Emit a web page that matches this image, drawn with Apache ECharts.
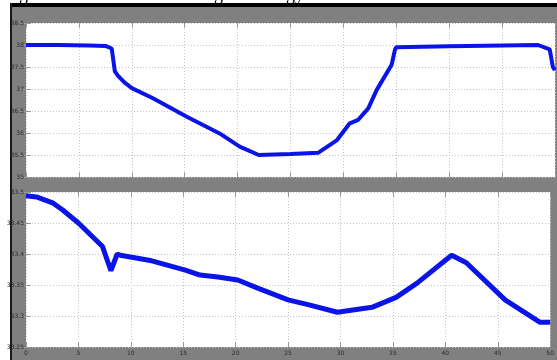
<!DOCTYPE html>
<html>
<head>
<meta charset="utf-8">
<script src="https://cdn.jsdelivr.net/npm/echarts@6/dist/echarts.min.js"></script>
<style>
  html, body { margin: 0; padding: 0; background: #fff; }
  #chart { width: 557px; height: 360px; }
</style>
</head>
<body>
<div id="chart"></div>
<script>
// Time axis ticks (s)
const timeTicks = [0, 5, 10, 15, 20, 25, 30, 35, 40, 45, 50];

// Upper trace
const topTime = [0, 3, 6, 7.5, 8.1, 8.4, 8.7, 9.3, 10.0, 12.0, 15.2, 18.3, 20.2, 22.0, 25, 27.6, 29.4, 30.6, 31.4, 32.35, 33.15, 34.56, 34.88, 35.0, 40, 45, 48.4, 49.5, 49.8, 50];
const topValue = [38.0, 38.0, 37.99, 37.98, 37.92, 37.4, 37.3, 37.15, 37.02, 36.79, 36.37, 35.99, 35.69, 35.5, 35.52, 35.55, 35.84, 36.22, 36.3, 36.56, 36.98, 37.55, 37.9, 37.95, 37.97, 37.99, 38.0, 37.9, 37.5, 37.43];

// Lower trace
const bottomTime = [0, 1, 2.6, 3.5, 5, 7.3, 8.1, 8.7, 9, 12, 15.2, 16.6, 18.3, 20.2, 22.1, 25, 27, 29.7, 33, 35.3, 37.3, 40.6, 42, 45.7, 49, 50];
const bottomValue = [33.494, 33.492, 33.482, 33.471, 33.45, 33.412, 33.373, 33.400, 33.398, 33.389, 33.374, 33.366, 33.363, 33.358, 33.345, 33.326, 33.318, 33.306, 33.314, 33.33, 33.353, 33.398, 33.386, 33.326, 33.29, 33.29];

// Axis ranges
const topRange = { min: 35, max: 38.5, interval: 0.5 };
const bottomRange = { min: 33.25, max: 33.5, interval: 0.05 };

const pairs = (xs, ys) => xs.map((x, i) => [x, ys[i]]);

const chart = echarts.init(document.getElementById('chart'));

const labelStyle = { fontSize: 6, color: '#2a2a2a', fontFamily: 'DejaVu Sans' };
const gridLine = { show: true, lineStyle: { color: '#c4c4c4', type: [1, 2], width: 1 } };
const tickStyle = { show: true, inside: true, length: 5, lineStyle: { color: '#9a9a9a', width: 1 } };

function xAxisFor(gridIndex, showLabels, pos) {
  return {
    type: 'value', gridIndex, position: pos, min: 0, max: 50, interval: 5,
    axisLine: { show: false },
    axisTick: tickStyle,
    splitLine: pos === 'bottom' ? gridLine : { show: false },
    axisLabel: showLabels ? Object.assign({ margin: 3 }, labelStyle) : { show: false }
  };
}
function yAxisFor(gridIndex, range, pos, decimals) {
  return {
    type: 'value', gridIndex, position: pos, min: range.min, max: range.max, interval: range.interval,
    axisLine: { show: false },
    axisTick: tickStyle,
    splitLine: pos === 'left' ? gridLine : { show: false },
    axisLabel: pos === 'left'
      ? Object.assign({ margin: 2, formatter: v => String(+v.toFixed(decimals)) }, labelStyle)
      : { show: false }
  };
}

chart.setOption({
  backgroundColor: '#808080',
  animation: false,
  graphic: [
    { type: 'rect', left: 0, top: 0, shape: { width: 10, height: 360 }, style: { fill: '#ffffff' }, silent: true },
    { type: 'rect', left: 0, top: 0, shape: { width: 557, height: 3 }, style: { fill: '#ffffff' }, silent: true },
    { type: 'rect', left: 10, top: 3, shape: { width: 547, height: 4 }, style: { fill: '#000000' }, silent: true },
    { type: 'rect', left: 10, top: 3, shape: { width: 2, height: 357 }, style: { fill: '#1a1a1a' }, silent: true },
    { type: 'text', left: 19, top: -14, style: { text: 'g', font: '18px "Liberation Serif"', fill: '#000' }, silent: true },
    { type: 'text', left: 214, top: -14, style: { text: 'g', font: '18px "Liberation Serif"', fill: '#000' }, silent: true },
    { type: 'text', left: 286, top: -14, style: { text: 'gy', font: '18px "Liberation Serif"', fill: '#000' }, silent: true }
  ],
  grid: [
    { left: 26, top: 23, width: 529, height: 154, show: true, backgroundColor: '#ffffff', borderWidth: 0 },
    { left: 26, top: 192, width: 529, height: 155, show: true, backgroundColor: '#ffffff', borderWidth: 0 }
  ],
  xAxis: [
    xAxisFor(0, false, 'bottom'),
    xAxisFor(0, false, 'top'),
    xAxisFor(1, true, 'bottom'),
    xAxisFor(1, false, 'top')
  ],
  yAxis: [
    yAxisFor(0, topRange, 'left', 1),
    yAxisFor(0, topRange, 'right', 1),
    yAxisFor(1, bottomRange, 'left', 2),
    yAxisFor(1, bottomRange, 'right', 2)
  ],
  series: [
    {
      type: 'line', xAxisIndex: 0, yAxisIndex: 0, data: pairs(topTime, topValue),
      showSymbol: false, lineStyle: { color: '#0a14e6', width: 4 }
    },
    {
      type: 'line', xAxisIndex: 2, yAxisIndex: 2, data: pairs(bottomTime, bottomValue),
      showSymbol: false, lineStyle: { color: '#0a14e6', width: 5 }
    }
  ]
});
</script>
</body>
</html>
